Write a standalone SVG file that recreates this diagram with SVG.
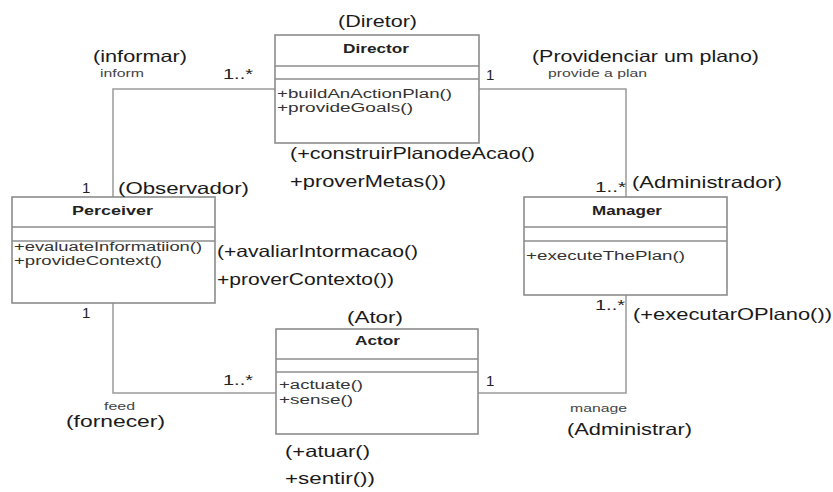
<svg xmlns="http://www.w3.org/2000/svg" width="833" height="492" viewBox="0 0 833 492">
<style>
  .box { fill: #ffffff; stroke: #8c8c8c; stroke-width: 1.6; }
  .sep { stroke: #8c8c8c; stroke-width: 1.4; }
  .conn { fill: none; stroke: #9a9a9a; stroke-width: 1.5; }
  text { font-family: "Liberation Sans", Arial, sans-serif; }
  .name { font-size: 13px; font-weight: bold; fill: #222; text-anchor: middle; }
  .op { font-size: 12px; fill: #333; }
  .pt { font-size: 16.5px; fill: #1a1a1a; }
  .mult { font-size: 15px; fill: #222; }
  .small { font-size: 11px; fill: #444; }
</style>
<rect width="833" height="492" fill="#ffffff"/>

<g id="connectors">
  <polyline class="conn" points="275,89 113,89 113,197"/>
  <polyline class="conn" points="479,89 626,89 626,197"/>
  <polyline class="conn" points="626,295 626,393 478,393"/>
  <polyline class="conn" points="113,303 113,393 276,393"/>
  <text class="small" x="100" y="77" textLength="44" lengthAdjust="spacingAndGlyphs">inform</text>
  <text class="small" x="548" y="77" textLength="99" lengthAdjust="spacingAndGlyphs">provide a plan</text>
  <text class="small" x="104" y="410" textLength="31" lengthAdjust="spacingAndGlyphs">feed</text>
  <text class="small" x="570" y="412" textLength="57" lengthAdjust="spacingAndGlyphs">manage</text>
  <text class="mult" x="223" y="79" textLength="30" lengthAdjust="spacingAndGlyphs">1..*</text>
  <text class="mult" x="486" y="80">1</text>
  <text class="mult" x="82" y="193">1</text>
  <text class="mult" x="595" y="192" textLength="31" lengthAdjust="spacingAndGlyphs">1..*</text>
  <text class="mult" x="595" y="310" textLength="30" lengthAdjust="spacingAndGlyphs">1..*</text>
  <text class="mult" x="82" y="318">1</text>
  <text class="mult" x="223" y="385" textLength="30" lengthAdjust="spacingAndGlyphs">1..*</text>
  <text class="mult" x="486" y="386">1</text>
  <text class="pt" x="93" y="62" textLength="94" lengthAdjust="spacingAndGlyphs">(informar)</text>
  <text class="pt" x="532" y="62" textLength="227" lengthAdjust="spacingAndGlyphs">(Providenciar um plano)</text>
  <text class="pt" x="66" y="427" textLength="99" lengthAdjust="spacingAndGlyphs">(fornecer)</text>
  <text class="pt" x="567" y="435" textLength="125" lengthAdjust="spacingAndGlyphs">(Administrar)</text>
</g>

<g id="director">
  <rect class="box" x="275" y="35" width="204" height="108"/>
  <line class="sep" x1="275" y1="66" x2="479" y2="66"/>
  <line class="sep" x1="275" y1="79" x2="479" y2="79"/>
  <text class="name" x="376" y="53" textLength="66" lengthAdjust="spacingAndGlyphs">Director</text>
  <text class="op" x="277" y="98" textLength="175" lengthAdjust="spacingAndGlyphs">+buildAnActionPlan()</text>
  <text class="op" x="277" y="112" textLength="136" lengthAdjust="spacingAndGlyphs">+provideGoals()</text>
  <text class="pt" x="338" y="27" textLength="79" lengthAdjust="spacingAndGlyphs">(Diretor)</text>
  <text class="pt" x="290" y="159" textLength="245" lengthAdjust="spacingAndGlyphs">(+construirPlanodeAcao()</text>
  <text class="pt" x="290" y="187" textLength="156" lengthAdjust="spacingAndGlyphs">+proverMetas())</text>
</g>

<g id="perceiver">
  <rect class="box" x="12" y="197" width="203" height="106"/>
  <line class="sep" x1="12" y1="227" x2="215" y2="227"/>
  <line class="sep" x1="12" y1="241" x2="215" y2="241"/>
  <text class="name" x="112.5" y="215" textLength="81" lengthAdjust="spacingAndGlyphs">Perceiver</text>
  <text class="op" x="14" y="251" textLength="188" lengthAdjust="spacingAndGlyphs">+evaluateInformatiion()</text>
  <text class="op" x="14" y="265" textLength="148" lengthAdjust="spacingAndGlyphs">+provideContext()</text>
  <text class="pt" x="118" y="194" textLength="131" lengthAdjust="spacingAndGlyphs">(Observador)</text>
  <text class="pt" x="217" y="257" textLength="201" lengthAdjust="spacingAndGlyphs">(+avaliarIntormacao()</text>
  <text class="pt" x="217" y="285" textLength="177" lengthAdjust="spacingAndGlyphs">+proverContexto())</text>
</g>

<g id="manager">
  <rect class="box" x="524" y="197" width="203" height="98"/>
  <line class="sep" x1="524" y1="227" x2="727" y2="227"/>
  <line class="sep" x1="524" y1="241" x2="727" y2="241"/>
  <text class="name" x="627" y="215" textLength="70" lengthAdjust="spacingAndGlyphs">Manager</text>
  <text class="op" x="526" y="260" textLength="159" lengthAdjust="spacingAndGlyphs">+executeThePlan()</text>
  <text class="pt" x="632" y="188" textLength="150" lengthAdjust="spacingAndGlyphs">(Administrador)</text>
  <text class="pt" x="633" y="320" textLength="199" lengthAdjust="spacingAndGlyphs">(+executarOPlano())</text>
</g>

<g id="actor">
  <rect class="box" x="276" y="329" width="202" height="105"/>
  <line class="sep" x1="276" y1="359" x2="478" y2="359"/>
  <line class="sep" x1="276" y1="372" x2="478" y2="372"/>
  <text class="name" x="377.5" y="345" textLength="45" lengthAdjust="spacingAndGlyphs">Actor</text>
  <text class="op" x="279" y="389" textLength="84" lengthAdjust="spacingAndGlyphs">+actuate()</text>
  <text class="op" x="279" y="404" textLength="74" lengthAdjust="spacingAndGlyphs">+sense()</text>
  <text class="pt" x="347" y="323" textLength="56" lengthAdjust="spacingAndGlyphs">(Ator)</text>
  <text class="pt" x="285" y="457" textLength="85" lengthAdjust="spacingAndGlyphs">(+atuar()</text>
  <text class="pt" x="285" y="484" textLength="90" lengthAdjust="spacingAndGlyphs">+sentir())</text>
</g>
</svg>
